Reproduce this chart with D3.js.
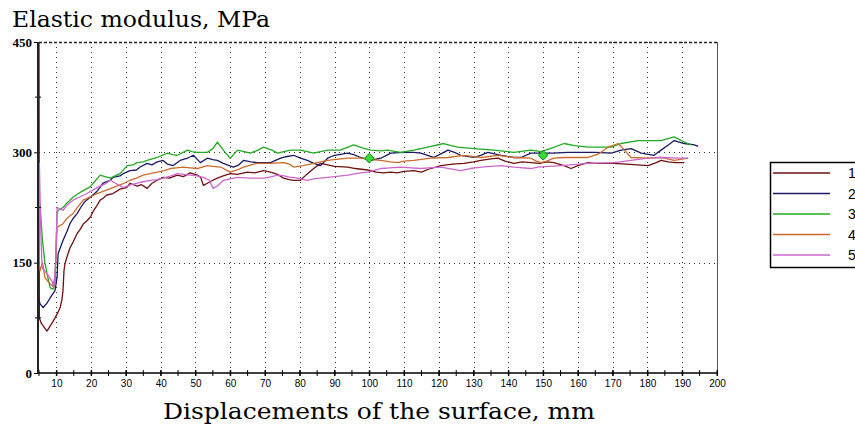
<!DOCTYPE html>
<html>
<head>
<meta charset="utf-8">
<script src="https://d3js.org/d3.v7.min.js"></script>
<style>
  body { margin: 0; background: #fff; }
  text.title { font-family: "DejaVu Serif", serif; font-size: 22px; }
  .xAxis text { font-family: "Liberation Sans", Arial, sans-serif; font-size: 10px; }
  .yAxis text { font-family: "Liberation Serif", serif; font-size: 13px; font-weight: bold; }
  .grid line { stroke: #333; stroke-dasharray: 1,4; shape-rendering: crispEdges; }
  path.domain { display: none; }
  .legend text { font-family: "Liberation Sans", Arial, sans-serif; font-size: 14px; }
</style>
</head>
<body>
<script>
// values: [displacement mm, modulus MPa]
const series1 = [[5,450],[5.1,75],[5.6,68],[6.2,64],[7.3,57],[8.5,66],[9.5,74],[10.2,80],[11.1,89],[11.6,100],[11.9,112],[12.2,140],[12.5,149],[13.2,160],[13.9,170],[14.8,178],[16,190],[16.8,195],[17.8,203],[18.8,207],[19.8,212],[20.6,220],[21.7,228],[22.6,235],[23.5,238],[24.5,242],[26.3,244],[28.3,250],[30.2,252],[31.2,258],[33.2,254],[34.5,256],[36.1,251],[37.5,258],[39,262],[40.7,266],[42.5,265],[44.8,269],[46.5,267],[48.5,272],[50.5,269],[51.5,266],[52.3,255],[53.4,258],[55,262],[56.3,265],[58,268],[60,271],[62,270],[64.9,273],[67,272],[69.6,275],[71.6,273],[73.6,270],[75.3,265],[77,263],[78.2,262],[80.2,262],[82,270],[84,278],[86,285],[88,283],[90,281],[93.8,280],[96,278],[99.5,276],[102,273],[104,272],[106.2,273],[108,272],[110,274],[112.8,275],[115,273],[117,277],[120.6,282],[124,284],[127.2,285],[130,287],[132.1,289],[135,291],[137,292],[139,288],[141.6,285],[144,287],[146.5,286],[149,285],[151,287],[153.1,286],[156,282],[158,278],[160,282],[162.9,286],[165,285],[170,285],[174,284],[177,283],[180.2,282],[182.5,286],[183.9,289],[186,287],[188,286],[190.6,286]];
const series2 = [[5,100],[5.3,94],[6.2,89],[7.3,95],[8.2,102],[9.6,112],[10.2,130],[10.5,162],[11.1,170],[11.9,180],[13,192],[13.9,203],[14.8,210],[16,217],[17,225],[18,232],[19.7,239],[21.5,246],[22.5,252],[23.4,258],[25.5,262],[26.3,266],[28.3,268],[29.2,271],[31.2,275],[33,276],[34.1,280],[36.1,285],[37.5,283],[39,287],[40.7,289],[41.9,284],[43.6,282],[45.6,289],[47.7,292],[49.4,296],[51.4,286],[53.4,292],[55,290],[56.3,289],[58,285],[60.9,280],[62.5,283],[63.8,289],[66,287],[67.8,286],[71.6,286],[74.5,292],[76,294],[78.2,296],[80.2,292],[82.2,289],[84,285],[86,282],[88,292],[90,296],[93.8,299],[95.5,297],[97.5,293],[99.5,290],[100.4,289],[103.3,292],[106.2,299],[109.9,300],[112.8,300],[114.8,299],[118.5,293],[120.6,298],[122.6,303],[124.5,300],[126.3,296],[130.1,293],[132,296],[134.1,300],[137.9,296],[141.6,293],[143.6,293],[146.5,299],[150,299],[153.1,299],[157,300],[160.9,300],[165,300],[169.6,299],[172.4,303],[175.3,305],[178.2,299],[181.9,296],[183.9,303],[186,310],[187.7,316],[190.6,312],[193.5,310],[194.6,308]];
const series3 = [[5,150],[5.2,230],[5.5,214],[6,180],[6.7,150],[7.3,135],[8.2,116],[9,114],[9.6,120],[10.2,217],[10.5,221],[11.9,225],[12.8,230],[14.8,239],[16,243],[17.7,248],[19.7,253],[20.6,258],[22.6,269],[24,267],[25.5,265],[28.3,271],[30.4,282],[32,283],[33.2,286],[35,287],[36.1,289],[39,293],[41.9,299],[43.5,297],[44.8,296],[47.7,303],[49,301],[50.5,300],[53.4,300],[55,305],[56.3,314],[58,303],[60,292],[62.1,303],[64,301],[65.8,299],[68,303],[69.6,307],[72,303],[73.6,299],[77.3,303],[80.2,303],[82.2,301],[84,299],[88,303],[91.7,303],[95.5,310],[98,306],[100.4,303],[103.3,302],[105.3,303],[109,300],[112.8,303],[116.8,307],[121.4,312],[123.5,309],[125.5,307],[130.1,305],[135.8,303],[141.6,300],[146.5,303],[149.4,301],[152,305],[156,312],[159,309],[162.9,307],[169.6,307],[172.4,312],[177.3,316],[180,316],[183.9,316],[187.7,321],[190.6,314],[192.6,310]];
const series4 = [[5,150],[5.3,139],[6,150],[6.7,130],[7.5,125],[8.2,121],[9,118],[9.6,130],[10.2,198],[11.9,203],[13,210],[14.8,217],[16.5,228],[17.7,235],[20,240],[21.7,244],[24,248],[26.3,252],[29,257],[31.2,262],[33,265],[35,269],[37,271],[39,273],[41,275],[42.8,278],[44.5,279],[46.5,280],[48.5,279],[50.5,278],[53.4,282],[55,281],[57.2,280],[60,273],[62,276],[63.8,280],[66,283],[67.8,285],[71.6,285],[75.3,286],[77,284],[78.2,280],[81,282],[84,285],[88,289],[93.8,292],[97.5,292],[101,290],[103.3,289],[106,287],[108.2,286],[110,288],[112.8,289],[117.7,292],[122.6,293],[127.2,296],[132.1,293],[137,296],[141.6,293],[146.5,292],[148,288],[149.4,286],[151,288],[153.1,292],[156,293],[162.9,293],[166,298],[168.7,307],[171.6,312],[173,305],[175.3,293],[180.2,292],[183.9,293],[187.7,289],[191.7,292]];
const series5 = [[5,150],[5.1,285],[5.3,240],[5.6,180],[5.9,143],[7.3,135],[8.7,125],[9.3,116],[9.8,150],[10.2,225],[11.9,221],[13,228],[14.8,235],[17,240],[18.8,244],[21.7,252],[24,257],[25.5,262],[27,258],[29.2,252],[31,255],[33.2,258],[35,260],[37,262],[39,263],[40.7,265],[43,268],[44.8,271],[46.5,270],[48.5,269],[50.5,268],[52.3,266],[54,262],[55.1,251],[56.5,255],[58,262],[60,264],[62.1,266],[65.8,265],[69.6,265],[72,267],[73.6,269],[75.5,268],[77.3,266],[78.2,266],[80.2,264],[82.2,262],[84,264],[88,266],[92,268],[93.8,269],[97.5,272],[99.5,273],[103.3,278],[106,279],[109,280],[114.8,278],[117,279],[120.6,280],[123,278],[126.3,275],[129,278],[132.1,280],[137.9,282],[141.6,280],[146.5,278],[148.5,280],[155.1,282],[162.9,285],[170.4,286],[175.3,289],[180.2,292],[183.9,293],[188.9,292],[191.7,292]];
const markers = [[100,292],[150,296]];

const seriesNames = ["1", "2", "3", "4", "5"];
const seriesColors = ["#701010", "#1a1a66", "#22aa22", "#cc6a2a", "#cc66cc"];
const xTicks = d3.range(10, 201, 10);
const xMinorTicks = d3.range(5, 201, 5);
const yTicks = [0, 150, 300, 450];
const yMinorTicks = [75, 225, 375];

const svg = d3.select("body").append("svg")
    .attr("width", 855)
    .attr("height", 428);

const x = d3.scaleLinear().domain([5, 200]).range([39, 717]);
const y = d3.scaleLinear().domain([0, 450]).range([373, 42]);

// title
svg.append("text")
    .attr("class", "title")
    .attr("x", 12)
    .attr("y", 27)
    .attr("textLength", 258)
    .attr("lengthAdjust", "spacingAndGlyphs")
    .text("Elastic modulus, MPa");

// dotted grid
const grid = svg.append("g").attr("class", "grid");
grid.selectAll("line.v")
    .data(xTicks.filter(d => d < 200))
    .enter().append("line")
    .attr("x1", d => Math.round(x(d)) + 0.5).attr("x2", d => Math.round(x(d)) + 0.5)
    .attr("y1", y(450)).attr("y2", y(0));
grid.selectAll("line.h")
    .data([150, 300])
    .enter().append("line")
    .attr("x1", x(5)).attr("x2", x(200))
    .attr("y1", d => Math.round(y(d)) + 0.5).attr("y2", d => Math.round(y(d)) + 0.5);

// frame: top dotted heavy, right thin
svg.append("line")
    .attr("x1", x(5)).attr("x2", x(200))
    .attr("y1", y(450) + 0.5).attr("y2", y(450) + 0.5)
    .style("stroke", "#222").style("stroke-width", 1.5).style("stroke-dasharray", "3,2");
svg.append("line")
    .attr("x1", x(200) + 0.5).attr("x2", x(200) + 0.5)
    .attr("y1", y(450)).attr("y2", y(0))
    .style("stroke", "#555").style("stroke-width", 1);

// series
const line = d3.line().x(d => x(d[0])).y(d => y(d[1]));
const allSeries = [series1, series2, series3, series4, series5];
svg.selectAll("path.series")
    .data(allSeries)
    .enter().append("path")
    .attr("class", "series")
    .attr("d", line)
    .style("fill", "none")
    .style("stroke", (d, i) => seriesColors[i])
    .style("stroke-width", 1.3)
    .style("stroke-linejoin", "round");

// markers
svg.selectAll("path.marker")
    .data(markers)
    .enter().append("path")
    .attr("class", "marker")
    .attr("transform", d => `translate(${x(d[0])},${y(d[1])})`)
    .attr("d", d3.symbol(d3.symbolDiamond2, 60))
    .style("fill", "#33dd33")
    .style("stroke", "#118811")
    .style("stroke-width", 1);

// x axis
const xAxis = d3.axisBottom(x)
    .tickValues(xTicks)
    .tickSize(6)
    .tickPadding(4)
    .tickFormat(d3.format("d"));
svg.append("g")
    .attr("class", "axis xAxis")
    .attr("transform", `translate(0, ${y(0) - 3})`)
    .call(xAxis)
    .selectAll(".tick line").style("stroke", "#000");
svg.append("g")
    .selectAll("line")
    .data(xMinorTicks)
    .enter().append("line")
    .attr("x1", d => x(d)).attr("x2", d => x(d))
    .attr("y1", y(0) - 3).attr("y2", y(0) + 3)
    .style("stroke", "#000");

// y axis
const yAxis = d3.axisLeft(y)
    .tickValues(yTicks)
    .tickSize(4)
    .tickPadding(2);
svg.append("g")
    .attr("class", "axis yAxis")
    .attr("transform", `translate(${x(5) - 1}, 0)`)
    .call(yAxis);
svg.append("g")
    .selectAll("line")
    .data(yMinorTicks)
    .enter().append("line")
    .attr("x1", x(5) - 4).attr("x2", x(5) + 2)
    .attr("y1", d => y(d)).attr("y2", d => y(d))
    .style("stroke", "#000");

// axis lines
svg.append("line")
    .attr("x1", x(5) - 1).attr("x2", x(200))
    .attr("y1", y(0)).attr("y2", y(0))
    .style("stroke", "#000").style("stroke-width", 1.5);
svg.append("line")
    .attr("x1", x(5) - 1).attr("x2", x(5) - 1)
    .attr("y1", y(450)).attr("y2", y(0))
    .style("stroke", "#222").style("stroke-width", 2);

// x title
svg.append("text")
    .attr("class", "title")
    .attr("x", 163)
    .attr("y", 419)
    .attr("textLength", 432)
    .attr("lengthAdjust", "spacingAndGlyphs")
    .text("Displacements of the surface, mm");

// legend
const legend = svg.append("g").attr("class", "legend");
legend.append("rect")
    .attr("x", 770.5).attr("y", 162.5)
    .attr("width", 100).attr("height", 105)
    .style("fill", "#fff").style("stroke", "#000").style("stroke-width", 1.5);
const legendY = d3.scalePoint().domain(seriesNames).range([173, 255]);
legend.selectAll("line")
    .data(seriesNames)
    .enter().append("line")
    .attr("x1", 773).attr("x2", 830)
    .attr("y1", d => legendY(d)).attr("y2", d => legendY(d))
    .style("stroke", (d, i) => seriesColors[i])
    .style("stroke-width", 1.5);
legend.selectAll("text")
    .data(seriesNames)
    .enter().append("text")
    .attr("x", 848)
    .attr("y", d => legendY(d) + 5)
    .text(d => d);
</script>
</body>
</html>
